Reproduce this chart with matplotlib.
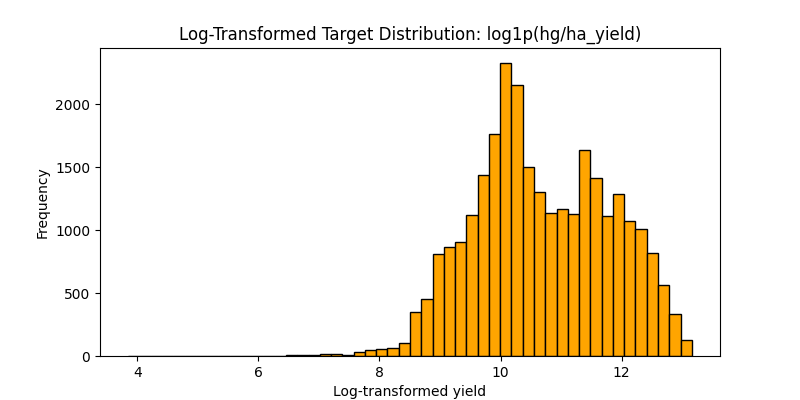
import numpy as np
import matplotlib.pyplot as plt

# histogram counts, 50 bins
counts = [1, 0, 0, 1, 0, 0, 1, 0, 1, 1, 2, 1, 2, 3, 4,
          5, 10, 15, 15, 10, 35, 45, 55, 65, 100,
          350, 450, 810, 865, 905, 1120, 1440, 1760, 2330, 2150,
          1500, 1300, 1135, 1170, 1125, 1635, 1410, 1110, 1290, 1070,
          1005, 820, 560, 330, 130]
x_min = 3.85
x_max = 13.16

edges = np.linspace(x_min, x_max, len(counts) + 1)

fig, ax = plt.subplots(figsize=(8, 4), dpi=100)
ax.hist(edges[:-1], bins=edges, weights=counts, color="orange", edgecolor="black")
ax.set_title("Log-Transformed Target Distribution: log1p(hg/ha_yield)")
ax.set_xlabel("Log-transformed yield")
ax.set_ylabel("Frequency")
fig.savefig("out.png")
